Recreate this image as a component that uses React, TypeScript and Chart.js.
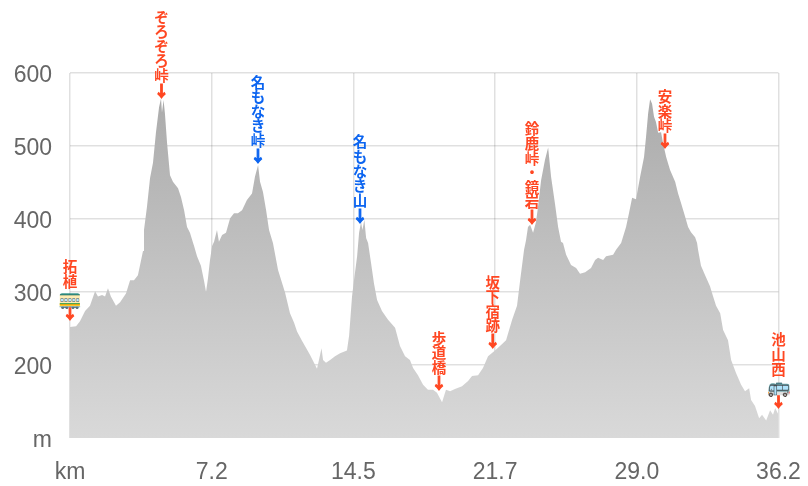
import React, { useEffect, useRef } from "react";
import { Chart, registerables } from "chart.js";

Chart.register(...registerables);

const distanceKm = [
  0, .31, .51, .77, 1.02, 1.28, 1.43, 1.64, 1.79, 1.94, 2.09, 2.35, 2.56, 2.86, 3.07, 3.27, 3.47, 3.73, 3.78, 3.93,
  4.09, 4.24, 4.39, 4.55, 4.65, 4.70, 4.78, 4.85, 4.96, 5.11, 5.26, 5.52, 5.67, 5.83, 5.98, 6.13, 6.29, 6.34, 6.49, 6.69,
  6.85, 6.95, 7.05, 7.15, 7.26, 7.36, 7.51, 7.61, 7.77, 7.97, 8.18, 8.38, 8.58, 8.79, 9.04, 9.30, 9.45, 9.61, 9.71, 9.86,
  10.02, 10.17, 10.37, 10.63, 10.99, 11.24, 11.45, 11.60, 11.86, 12.26, 12.62, 12.72, 12.85, 12.93, 13.08, 13.29, 13.54, 13.80, 14.15, 14.26,
  14.41, 14.51, 14.67, 14.77, 14.87, 14.94, 15.04, 15.13, 15.23, 15.38, 15.53, 15.69, 15.94, 16.25, 16.61, 16.86, 17.12, 17.37, 17.53, 17.78,
  18.04, 18.29, 18.55, 18.75, 19.01, 19.21, 19.42, 19.67, 20.03, 20.34, 20.54, 20.85, 21.10, 21.36, 21.67, 21.97, 22.28, 22.59, 22.84, 23.00,
  23.20, 23.30, 23.40, 23.51, 23.66, 23.81, 23.91, 24.07, 24.27, 24.43, 24.58, 24.78, 24.94, 25.09, 25.19, 25.35, 25.60, 25.86, 26.06, 26.32,
  26.62, 26.83, 26.98, 27.24, 27.39, 27.75, 27.90, 28.16, 28.41, 28.56, 28.72, 28.92, 29.13, 29.33, 29.43, 29.54, 29.64, 29.74, 29.84, 29.94,
  30.05, 30.20, 30.30, 30.46, 30.66, 30.92, 31.07, 31.22, 31.43, 31.58, 31.73, 31.94, 32.04, 32.09, 32.24, 32.45, 32.70, 32.86, 33.01, 33.22,
  33.37, 33.62, 33.78, 34.03, 34.29, 34.49, 34.70, 34.80, 35.00, 35.21, 35.36, 35.57, 35.77, 35.92, 36.03, 36.2,
];

const elevationM = [
  252, 253, 260, 274, 281, 301, 294, 296, 294, 305, 294, 281, 286, 298, 316, 316, 323, 356, 385, 416,
  456, 477, 518, 553, 565, 546, 563, 545, 504, 460, 451, 442, 430, 412, 389, 381, 367, 363, 349, 336,
  315, 300, 319, 343, 363, 369, 385, 369, 378, 381, 401, 408, 408, 412, 426, 435, 458, 474, 451, 437,
  412, 385, 367, 330, 299, 271, 258, 246, 233, 214, 195, 207, 223, 207, 203, 207, 212, 216, 220, 240,
  294, 316, 349, 381, 396, 385, 399, 374, 367, 340, 312, 289, 274, 262, 251, 226, 212, 207, 196, 186,
  173, 166, 166, 162, 149, 166, 164, 167, 171, 178, 185, 186, 196, 212, 219, 226, 234, 262, 281, 316,
  358, 371, 389, 392, 381, 396, 416, 453, 481, 498, 458, 421, 389, 369, 367, 351, 337, 333, 325, 327,
  333, 344, 347, 344, 349, 351, 358, 367, 389, 408, 429, 427, 458, 485, 512, 545, 564, 558, 540, 533,
  518, 519, 504, 485, 467, 451, 435, 422, 403, 389, 382, 375, 367, 358, 336, 323, 308, 294, 281, 271,
  248, 234, 207, 189, 173, 164, 168, 152, 144, 127, 132, 124, 138, 132, 141, 132,
];

const xTickKm = [0, 7.24, 14.48, 21.72, 28.96, 36.2];
const xTickLabels = ["km", "7.2", "14.5", "21.7", "29.0", "36.2"];
const yTickValues = [100, 200, 300, 400, 500, 600];
const yTickLabels = ["m", "200", "300", "400", "500", "600"];

const RED = "#ff4722";
const BLUE = "#0b64f0";

const markerNames = ["ぞろぞろ峠", "名もなき峠", "名もなき山", "鈴鹿峠・鏡岩", "安楽峠", "拓植", "池山西", "歩道橋", "坂下宿跡"];
const markerKm = [4.68, 9.61, 14.82, 23.61, 30.4, 0, 36.2, 18.86, 21.6];
const markerTipM = [566, 477, 395, 393, 497, 262, 142, 166, 223];
const markerColors = [RED, BLUE, BLUE, RED, RED, RED, RED, RED, RED];
const markerIcons = ["", "", "", "", "", "🚃", "🚌", "", ""];

const markerPlugin = {
  id: "markers",
  beforeDraw(chart: any) {
    const axis = chart.scales.y;
    if (axis.$nudged) return;
    axis.$nudged = true;
    axis.getLabelItems(chart.chartArea).forEach((item: any) => {
      item.textOffset += 2.5;
    });
  },
  afterDatasetsDraw(chart: any) {
    const { ctx, scales } = chart;
    ctx.save();
    ctx.textAlign = "center";
    ctx.textBaseline = "middle";
    markerNames.forEach((name, i) => {
      const x = scales.x.getPixelForValue(markerKm[i]);
      let y = scales.y.getPixelForValue(markerTipM[i]);
      ctx.fillStyle = markerColors[i];
      ctx.strokeStyle = markerColors[i];
      ctx.font = 'bold 15px "Noto Sans CJK JP"';
      ctx.lineWidth = 1.2;
      ctx.fillText("↓", x, y - 7.5);
      ctx.strokeText("↓", x, y - 7.5);
      y -= 15;
      if (markerIcons[i]) {
        ctx.font = '19px "Noto Sans CJK JP"';
        ctx.fillText(markerIcons[i], x, y - 7);
        y -= 16;
      }
      ctx.font = 'bold 14.5px "Noto Sans CJK JP"';
      Array.from(name).reverse().forEach((ch) => {
        ctx.fillText(ch, x, y - 7.3);
        y -= 14.6;
      });
    });
    ctx.restore();
  },
};

export default function App() {
  const ref = useRef<HTMLCanvasElement>(null);
  useEffect(() => {
    const chart = new Chart(ref.current!, {
      type: "line",
      plugins: [markerPlugin],
      data: {
        datasets: [
          {
            data: distanceKm.map((x, i) => ({ x, y: elevationM[i] })),
            pointRadius: 0,
            borderWidth: 0,
            tension: 0,
            fill: "start",
            backgroundColor: (c: any) => {
              const area = c.chart.chartArea;
              if (!area) return "#bbbbbb";
              const g = c.chart.ctx.createLinearGradient(0, area.top, 0, area.bottom);
              g.addColorStop(0, "#a8a8a8");
              g.addColorStop(1, "#d9d9d9");
              return g;
            },
          },
        ],
      },
      options: {
        responsive: false,
        animation: false,
        layout: { padding: { top: 73, right: 29.5 } },
        plugins: { legend: { display: false }, tooltip: { enabled: false } },
        scales: {
          x: {
            type: "linear",
            min: 0,
            max: 36.2,
            afterBuildTicks: (axis: any) => {
              axis.ticks = xTickKm.map((value) => ({ value }));
            },
            afterFit: (axis: any) => {
              axis.height = 48;
              axis.paddingRight = 0;
              axis.paddingLeft = 0;
            },
            border: { display: false },
            grid: { color: "rgba(0,0,0,0.12)", lineWidth: 1.5, drawTicks: false },
            ticks: {
              autoSkip: false,
              maxRotation: 0,
              padding: 21,
              color: "#666666",
              font: { family: '"Liberation Sans"', size: 23 },
              callback: (v: any) => xTickLabels[xTickKm.indexOf(v)],
            },
          },
          y: {
            type: "linear",
            min: 100,
            max: 600,
            afterBuildTicks: (axis: any) => {
              axis.ticks = yTickValues.map((value) => ({ value }));
            },
            afterFit: (axis: any) => {
              axis.width = 70;
            },
            border: { display: false },
            grid: {
              lineWidth: 1.5,
              drawTicks: false,
              color: (c: any) => (c.tick?.value === 100 ? "rgba(0,0,0,0)" : "rgba(0,0,0,0.12)"),
            },
            ticks: {
              padding: 18,
              color: "#666666",
              font: { family: '"Liberation Sans"', size: 23 },
              callback: (v: any) => yTickLabels[yTickValues.indexOf(v)],
            },
          },
        },
      },
    } as any);
    return () => chart.destroy();
  }, []);
  return (
    <div style={{ position: "fixed", left: 0, top: 0, width: 808, height: 486, background: "#fff" }}>
      <canvas ref={ref} width={808} height={486} style={{ display: "block" }} />
    </div>
  );
}
